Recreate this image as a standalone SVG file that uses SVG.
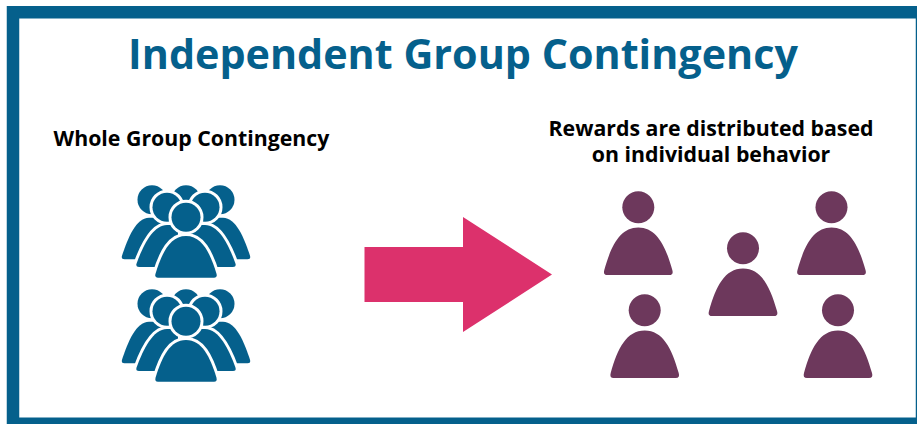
<svg xmlns="http://www.w3.org/2000/svg" width="917" height="424" viewBox="0 0 917 424">
<style>
text{font-family:"Open Sans","Noto Sans","Liberation Sans",sans-serif;text-anchor:middle}
.title{font-size:41.300px;font-weight:700;fill:#05608c}
.label{font-size:21.300px;font-weight:700;fill:#000}
.plum{fill:#6d385c}
.blue{fill:#05608c;stroke:#fff;stroke-width:6;paint-order:stroke}
</style>
<defs>
<g id="person">
<circle cx="0" cy="-67.7" r="16"/>
<path d="M0,-47.5C-18,-47.5 -27,-30 -34,-5Q-35.500,0 -31,0L31,0Q35.500,0 34,-5C27,-30 18,-47.500 0,-47.500Z"/>
</g>
<g id="crowd">
<circle cx="-34" cy="-78" r="14.500"/><circle cx="34" cy="-78" r="14.500"/>
<circle cx="0" cy="-78" r="14.500"/>
<path d="M-37,-60C-50,-60 -58,-40 -64,-22Q-65,-18.400 -61.500,-18.400L-5,-18.400L-5,-60Z"/>
<path d="M37,-60C50,-60 58,-40 64,-22Q65,-18.400 61.500,-18.400L5,-18.400L5,-60Z"/>
<circle cx="-19" cy="-70.500" r="14.500"/><circle cx="19" cy="-70.500" r="14.500"/>
<path d="M-19,-52.700C-33,-52.700 -43,-32 -49.500,-14Q-50.500,-10.700 -47,-10.700L5,-10.700L5,-52.700Z"/>
<path d="M19,-52.700C33,-52.700 43,-32 49.500,-14Q50.500,-10.700 47,-10.700L-5,-10.700L-5,-52.700Z"/>
<circle cx="0" cy="-60.500" r="14.500"/>
<path d="M0,-41.700C-16,-41.700 -24,-25 -30.500,-4Q-31.500,0 -28,0L28,0Q31.500,0 30.500,-4C24,-25 16,-41.700 0,-41.700Z"/>
</g>
</defs>
<rect id="frame" x="13" y="12.250" width="909" height="411.500" fill="#fff" stroke="#05608c" stroke-width="12.500"/>
<text class="title" x="463" y="68.500">Independent Group Contingency</text>
<g id="whole-group-label"><text class="label" x="191.500" y="146">Whole Group Contingency</text></g>
<g id="rewards-label"><text class="label" x="711" y="136">Rewards are distributed based</text><text class="label" x="711" y="162">on individual behavior</text></g>
<g id="group-top" class="blue"><use href="#crowd" transform="translate(186,277.700)"/></g>
<g id="group-bottom" class="blue"><use href="#crowd" transform="translate(186,381.700)"/></g>
<g id="connectors"><polygon points="364.500,247 463,247 463,217 552,274.500 463,332 463,302 364.500,302" fill="#dc316c"/></g>
<g id="person-1" class="plum"><use href="#person" transform="translate(638.300,275)"/></g>
<g id="person-2" class="plum"><use href="#person" transform="translate(743,316)"/></g>
<g id="person-3" class="plum"><use href="#person" transform="translate(831.500,275)"/></g>
<g id="person-4" class="plum"><use href="#person" transform="translate(644.700,378)"/></g>
<g id="person-5" class="plum"><use href="#person" transform="translate(838,378)"/></g>
</svg>
